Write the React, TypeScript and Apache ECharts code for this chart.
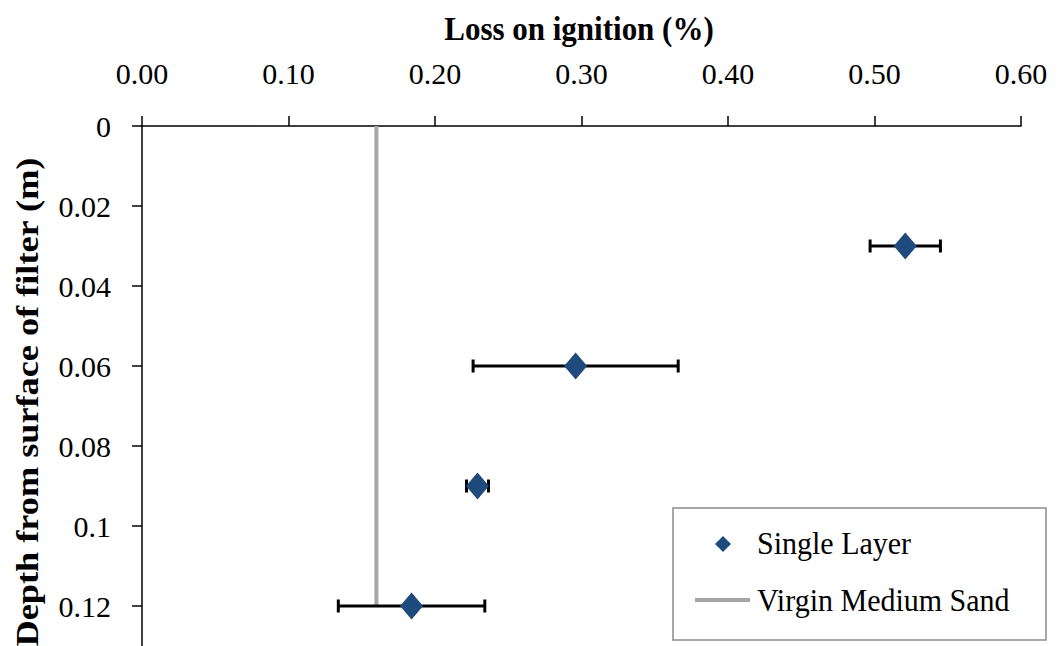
import React, { useEffect, useRef } from "react";
import * as echarts from "echarts";

const depths = [0.03, 0.06, 0.09, 0.12];
const lossValues = [0.521, 0.296, 0.229, 0.184];
const lossErrors = [0.024, 0.07, 0.0075, 0.05];
const virginValue = 0.16;
const virginDepths = [0, 0.12];
const xTicks = { min: 0, max: 0.6, interval: 0.1 };
const yTicks = { min: 0, max: 0.13, interval: 0.02 };
const xTitle = "Loss on ignition (%)";
const yTitle = "Depth from surface of filter (m)";
const seriesNames = ["Single Layer", "Virgin Medium Sand"];

const FONT = "Liberation Serif";
const BLUE = "#1F4A7E";
const GRAY = "#A6A6A6";

export default function App() {
  const ref = useRef<HTMLDivElement>(null);
  useEffect(() => {
    document.body.style.margin = "0";
    const chart = echarts.init(ref.current!, null, { renderer: "svg" });
    const points = depths.map((d, i) => [lossValues[i], d]);
    const errData = depths.map((d, i) => [
      lossValues[i],
      d,
      lossValues[i] - lossErrors[i],
      lossValues[i] + lossErrors[i],
    ]);
    const legendText = (text: string, y: number) => ({
      type: "text",
      x: 757,
      y,
      scaleY: 1.08,
      z: 101,
      style: {
        text,
        fontFamily: FONT,
        fontSize: 30,
        fill: "#000",
        textAlign: "left",
        textVerticalAlign: "middle",
      },
    });
    chart.setOption({
      animation: false,
      backgroundColor: "#fff",
      grid: { left: 142, right: 41, top: 126, bottom: 0 },
      xAxis: {
        type: "value",
        position: "top",
        min: xTicks.min,
        max: xTicks.max,
        interval: xTicks.interval,
        axisLine: { show: true, lineStyle: { color: "#000", width: 1.5 } },
        axisTick: { show: true, inside: false, length: 10, lineStyle: { color: "#000", width: 1.5 } },
        splitLine: { show: false },
        axisLabel: {
          margin: 38,
          fontFamily: FONT,
          fontSize: 30,
          color: "#000",
          formatter: (v: number) => v.toFixed(2),
        },
      },
      yAxis: {
        type: "value",
        inverse: true,
        min: yTicks.min,
        max: yTicks.max,
        interval: yTicks.interval,
        axisLine: { show: true, lineStyle: { color: "#000", width: 1.5 } },
        axisTick: { show: true, inside: false, length: 10, lineStyle: { color: "#000", width: 1.5 } },
        splitLine: { show: false },
        axisLabel: {
          margin: 31,
          fontFamily: FONT,
          fontSize: 30,
          color: "#000",
          showMaxLabel: false,
          formatter: (v: number) => (v > 0.125 ? "" : String(Math.round(v * 100) / 100)),
        },
      },
      graphic: [
        {
          type: "text",
          x: 579,
          y: 29,
          scaleY: 1.08,
          style: {
            text: xTitle,
            fontFamily: FONT,
            fontSize: 31,
            fontWeight: "bold",
            fill: "#000",
            textAlign: "center",
            textVerticalAlign: "middle",
          },
        },
        {
          type: "text",
          x: 27,
          y: 402,
          rotation: Math.PI / 2,
          scaleX: 1.17,
          style: {
            text: yTitle,
            fontFamily: FONT,
            fontSize: 31,
            fontWeight: "bold",
            fill: "#000",
            textAlign: "center",
            textVerticalAlign: "middle",
          },
        },
        {
          type: "rect",
          z: 100,
          shape: { x: 673, y: 508, width: 373, height: 132 },
          style: { fill: "#fff", stroke: "#8c8c8c", lineWidth: 1.5 },
        },
        {
          type: "polygon",
          z: 101,
          shape: { points: [[723, 536], [731, 544], [723, 552], [715, 544]] },
          style: { fill: BLUE },
        },
        {
          type: "line",
          z: 101,
          shape: { x1: 695, y1: 600, x2: 750, y2: 600 },
          style: { stroke: GRAY, lineWidth: 4 },
        },
        legendText(seriesNames[0], 543),
        legendText(seriesNames[1], 600),
      ],
      series: [
        {
          name: seriesNames[1],
          type: "line",
          data: virginDepths.map((d) => [virginValue, d]),
          symbol: "none",
          lineStyle: { color: GRAY, width: 4 },
          itemStyle: { color: GRAY },
          z: 1,
        },
        {
          name: "errors",
          type: "custom",
          data: errData,
          z: 2,
          renderItem: (params: any, api: any) => {
            const y = api.value(1);
            const lo = api.coord([api.value(2), y]);
            const hi = api.coord([api.value(3), y]);
            const h = 6.5;
            const st = { stroke: "#000", lineWidth: 3 };
            return {
              type: "group",
              children: [
                { type: "line", shape: { x1: lo[0], y1: lo[1], x2: hi[0], y2: hi[1] }, style: st },
                { type: "line", shape: { x1: lo[0], y1: lo[1] - h, x2: lo[0], y2: lo[1] + h }, style: st },
                { type: "line", shape: { x1: hi[0], y1: hi[1] - h, x2: hi[0], y2: hi[1] + h }, style: st },
              ],
            };
          },
        },
        {
          name: seriesNames[0],
          type: "scatter",
          data: points,
          symbol: "diamond",
          symbolSize: [23, 27],
          itemStyle: { color: BLUE, opacity: 1 },
          z: 3,
        },
      ],
    });
    return () => chart.dispose();
  }, []);
  return <div ref={ref} style={{ width: 1062, height: 646 }} />;
}
